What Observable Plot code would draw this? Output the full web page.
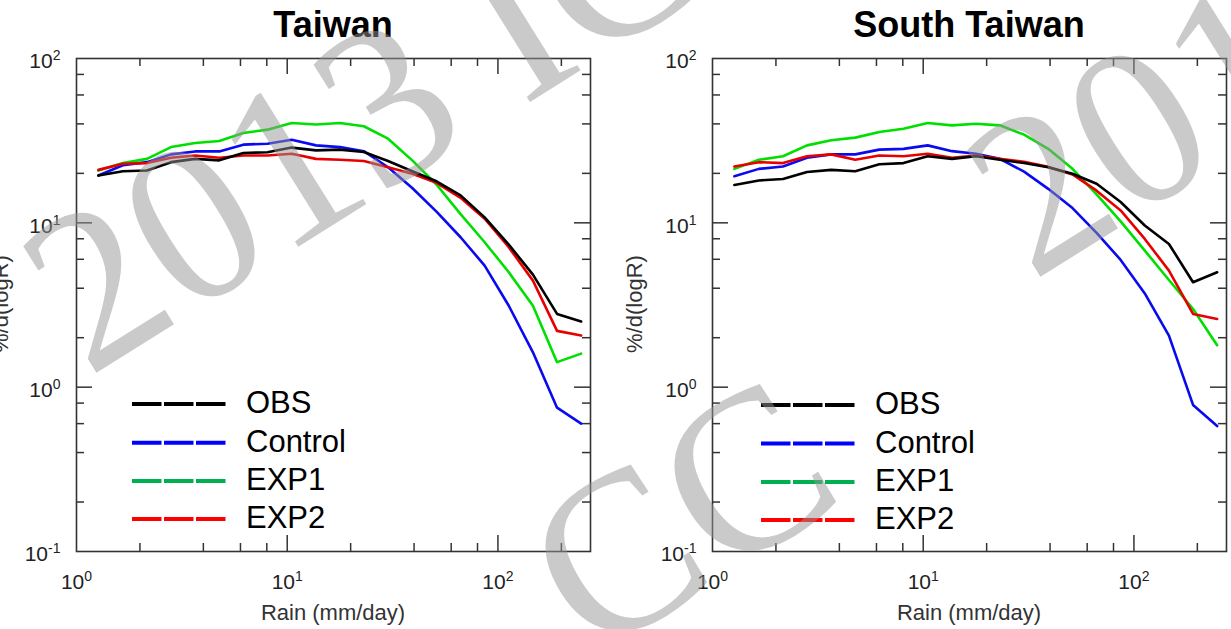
<!DOCTYPE html>
<html><head><meta charset="utf-8">
<script src="https://cdn.jsdelivr.net/npm/d3@7"></script>
<script src="https://cdn.jsdelivr.net/npm/@observablehq/plot@0.6"></script>
<style>
html,body{margin:0;padding:0;background:#fff;overflow:hidden;}
#wrap{position:relative;width:1231px;height:629px;overflow:hidden;font-family:"Liberation Sans",Arial,sans-serif;}
.panel{position:absolute;top:0;}
#overlay{position:absolute;left:0;top:0;pointer-events:none;}
</style></head><body>
<div id="wrap">
  <div id="p1" class="panel" style="left:0px"></div>
  <div id="p2" class="panel" style="left:615px"></div>
  <svg id="overlay" width="1231" height="629"></svg>
</div>
<script>
// ---------- data ----------
const rain = [1.27, 1.66, 2.16, 2.81, 3.66, 4.76, 6.19, 8.06, 10.5, 13.7, 17.8, 23.1, 30.1, 39.2, 51.1, 66.5, 86.5, 112.6, 146.6, 190.8, 248.3];
const seriesNames = ["OBS", "Control", "EXP1", "EXP2"];
const lineColors = ["#000000", "#0a0af0", "#00e000", "#e80000"];
const legendColors = ["#000000", "#0000ff", "#00b050", "#ff0000"];

const taiwanOBS     = [19.4, 20.6, 20.8, 23.4, 24.5, 24.0, 26.6, 26.9, 28.7, 27.6, 27.9, 27.0, 23.8, 20.6, 17.9, 14.7, 10.8, 7.37, 4.84, 2.79, 2.51];
const taiwanControl = [19.4, 22.4, 23.4, 26.1, 27.2, 27.2, 29.9, 30.3, 32.0, 29.6, 28.9, 27.3, 21.8, 16.3, 11.7, 8.17, 5.49, 3.13, 1.63, 0.75, 0.60];
const taiwanEXP1    = [20.8, 23.1, 24.5, 28.9, 30.6, 31.5, 35.2, 36.9, 40.5, 39.7, 40.5, 38.7, 32.5, 24.0, 17.1, 11.3, 7.62, 5.00, 3.13, 1.42, 1.60];
const taiwanEXP2    = [21.0, 22.9, 23.1, 24.9, 25.7, 24.9, 25.7, 25.7, 26.3, 24.5, 24.2, 23.8, 21.8, 19.9, 17.5, 14.2, 10.6, 7.10, 4.45, 2.20, 2.06];

const southOBS     = [17.0, 18.1, 18.5, 20.4, 21.0, 20.6, 22.7, 23.1, 25.4, 24.5, 25.4, 24.2, 23.1, 21.8, 19.9, 17.3, 13.4, 9.63, 7.44, 4.35, 5.00];
const southControl = [19.2, 21.3, 22.0, 24.9, 26.1, 26.1, 27.9, 28.2, 29.6, 27.3, 26.3, 24.5, 20.5, 16.1, 12.3, 8.69, 5.95, 3.72, 2.06, 0.78, 0.58];
const southEXP1    = [21.3, 24.2, 25.4, 29.6, 31.8, 33.0, 35.7, 37.4, 40.5, 39.2, 40.1, 39.2, 34.4, 28.2, 21.3, 14.9, 10.2, 6.78, 4.49, 2.99, 1.80];
const southEXP2    = [22.0, 23.4, 23.1, 25.4, 26.1, 24.2, 25.7, 25.4, 26.3, 24.9, 25.7, 24.5, 23.5, 21.9, 19.7, 15.7, 11.9, 7.98, 5.12, 2.79, 2.60];

const xMajor = [10, 100];
const xMinor = [2, 4, 6, 8, 20, 40, 60, 80, 200];
const yMajor = [1, 10];
const yMinor = [0.2, 0.4, 0.6, 0.8, 2, 4, 6, 8, 20, 40, 60, 80];
const xTickLabels = [1, 10, 100];
const yTickLabels = [0.1, 1, 10, 100];

const titles = ["Taiwan", "South Taiwan"];
const xLabel = "Rain (mm/day)";
const yLabel = "%/d(logR)";

// ---------- build ----------
function tidy(obs, ctl, e1, e2) {
  const byName = {OBS: obs, Control: ctl, EXP1: e1, EXP2: e2};
  const order = ["EXP1", "Control", "EXP2", "OBS"]; // OBS drawn last
  const rows = [];
  for (const s of order) byName[s].forEach((v, i) => rows.push({x: rain[i], y: v, s}));
  return rows;
}
const fmt = d => "10|" + Math.round(Math.log10(d));
const W = 514, H = 493;

function makePlot(rows, width, mLeft, mRight) {
  const tk = {stroke: "#333", strokeWidth: 1.5};
  const svg = Plot.plot({
    width, height: 629,
    marginLeft: mLeft, marginRight: mRight, marginTop: 58, marginBottom: 78,
    style: {background: "transparent", fontFamily: "Liberation Sans, Arial, sans-serif", fontSize: "21px"},
    x: {type: "log", domain: [1, 275]},
    y: {type: "log", domain: [0.1, 100]},
    color: {domain: seriesNames, range: lineColors},
    marks: [
      Plot.tickX(xMajor, {insetTop: H - 16, ...tk}),
      Plot.tickX(xMajor, {insetBottom: H - 16, ...tk}),
      Plot.tickX(xMinor, {insetTop: H - 8, ...tk}),
      Plot.tickX(xMinor, {insetBottom: H - 8, ...tk}),
      Plot.tickY(yMajor, {insetRight: W - 16, ...tk}),
      Plot.tickY(yMajor, {insetLeft: W - 16, ...tk}),
      Plot.tickY(yMinor, {insetRight: W - 8, ...tk}),
      Plot.tickY(yMinor, {insetLeft: W - 8, ...tk}),
      Plot.axisX({ticks: xTickLabels, tickFormat: fmt, tickSize: 0, tickPadding: 23, fontSize: 21, fill: "#222", label: null}),
      Plot.axisY({ticks: yTickLabels, tickFormat: fmt, tickSize: 0, tickPadding: 16, fontSize: 21, fill: "#222", label: null, dy: 3}),
      Plot.line(rows, {x: "x", y: "y", stroke: "s", z: "s", strokeWidth: 2.6, strokeLinejoin: "round"}),
      Plot.frame({stroke: "#333", strokeWidth: 1.6})
    ]
  });
  // superscript exponents
  svg.querySelectorAll("text").forEach(t => {
    if (t.children.length === 0 && t.textContent.includes("|")) {
      const [b, e] = t.textContent.split("|");
      t.textContent = b;
      t.setAttribute("font-size", "21");
      t.setAttribute("style", "font-size:21px");
      const ts = document.createElementNS("http://www.w3.org/2000/svg", "tspan");
      ts.setAttribute("dy", "-8");
      ts.setAttribute("font-size", "14");
      ts.setAttribute("style", "font-size:14px");
      ts.textContent = e;
      t.appendChild(ts);
    }
  });
  return svg;
}

document.getElementById("p1").appendChild(makePlot(tidy(taiwanOBS, taiwanControl, taiwanEXP1, taiwanEXP2), 615, 76, 25));
document.getElementById("p2").appendChild(makePlot(tidy(southOBS, southControl, southEXP1, southEXP2), 616, 97, 5));

// ---------- overlay: titles, axis labels, legends, watermark ----------
const ov = d3.select("#overlay");
const panels = [
  {cx: 333, ylab: 8, leg: {x1: 132, x2: 226, tx: 246, rows: [404, 442.7, 481, 519]}},
  {cx: 969, ylab: 642, leg: {x1: 761, x2: 855.5, tx: 875, rows: [405, 443.5, 482, 520]}}
];
panels.forEach((p, k) => {
  ov.append("text").attr("x", p.cx).attr("y", 37).attr("text-anchor", "middle")
    .attr("font-family", "Liberation Sans, Arial, sans-serif").attr("font-weight", "bold")
    .attr("font-size", 36).attr("fill", "#000").text(titles[k]);
  ov.append("text").attr("x", p.cx).attr("y", 619.5).attr("text-anchor", "middle")
    .attr("font-family", "Liberation Sans, Arial, sans-serif")
    .attr("font-size", 22).attr("fill", "#333").text(xLabel);
  ov.append("text").attr("transform", `translate(${p.ylab},304) rotate(-90)`).attr("text-anchor", "middle")
    .attr("font-family", "Liberation Sans, Arial, sans-serif")
    .attr("font-size", 22).attr("fill", "#333").text(yLabel);
  seriesNames.forEach((s, i) => {
    const y = p.leg.rows[i];
    ov.append("line").attr("x1", p.leg.x1).attr("x2", p.leg.x2).attr("y1", y).attr("y2", y)
      .attr("stroke", legendColors[i]).attr("stroke-width", 4).attr("stroke-dasharray", "29.5 2.5");
    ov.append("text").attr("x", p.leg.tx).attr("y", y + 9.3)
      .attr("font-family", "Liberation Sans, Arial, sans-serif")
      .attr("font-size", 31).attr("fill", "#000").text(s);
  });
});

// watermark
const wm = ov.append("g").attr("fill", "rgb(150,150,150)").attr("fill-opacity", 0.5)
  .attr("font-family", "Liberation Serif, DejaVu Serif, serif").attr("font-size", 228);
wm.append("text").attr("transform", "translate(88,378) rotate(-32)").text("2013 ICCC");
wm.append("text").attr("transform", "translate(592,660) rotate(-32)").text("CC");
wm.append("text").attr("transform", "translate(1032,282) rotate(-32)").text("2013");
</script>
</body></html>
